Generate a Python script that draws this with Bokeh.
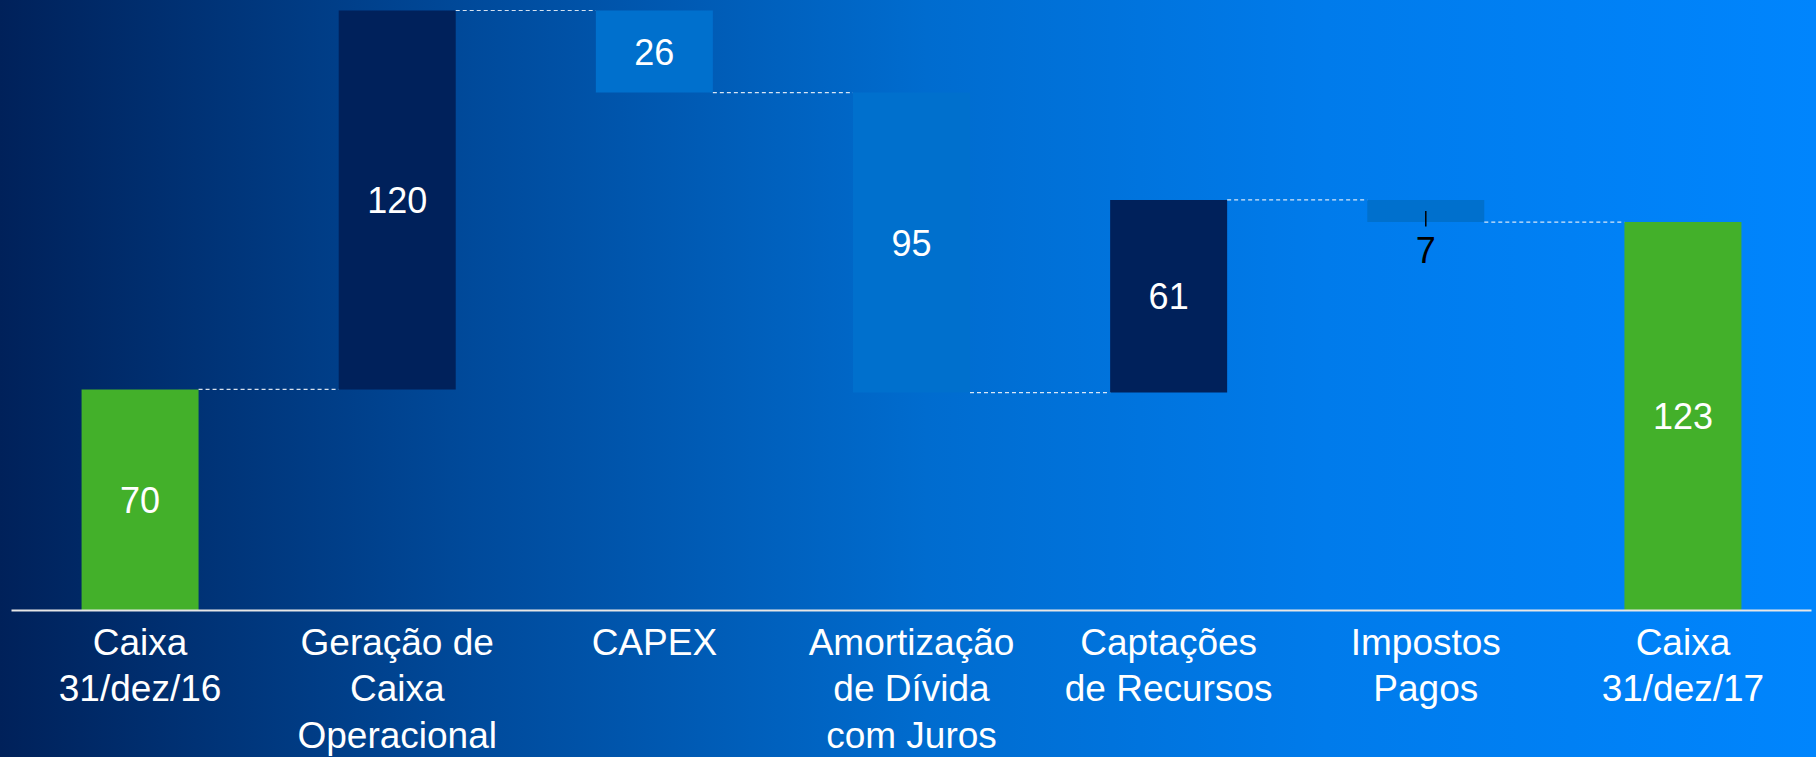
from bokeh.plotting import figure
from bokeh.models import ColumnDataSource, Range1d, FactorRange, GlobalInlineStyleSheet
from bokeh.transform import dodge
from bokeh.core.properties import value
from bokeh.embed import file_html
from bokeh.resources import INLINE

# ---- data ----
categories = ["Caixa\n31/dez/16", "Geração de\nCaixa\nOperacional", "CAPEX",
              "Amortização\nde Dívida\ncom Juros", "Captações\nde Recursos",
              "Impostos\nPagos", "Caixa\n31/dez/17"]
values = [70, 120, -26, -95, 61, -7, 123]
kinds = ["total", "up", "down", "down", "up", "down", "total"]

colors = {"total": "#43B02A", "up": "#00215B", "down": "#0070CD"}
FONT = "Liberation Sans"

# waterfall geometry from values
bottoms, tops, levels, running = [], [], [], 0
for v, k in zip(values, kinds):
    if k == "total":
        b, t = 0, v
        running = v
    else:
        start = running
        running = running + v
        b, t = min(start, running), max(start, running)
    bottoms.append(b)
    tops.append(t)
    levels.append(running)

bar_src = ColumnDataSource(dict(
    cat=categories, bottom=bottoms, top=tops,
    color=[colors[k] for k in kinds],
))

small = [abs(v) < 10 for v in values]
lab_src = ColumnDataSource(dict(
    cat=[c for c, s in zip(categories, small) if not s],
    y=[(b + t) / 2 for b, t, s in zip(bottoms, tops, small) if not s],
    text=[str(abs(v)) for v, s in zip(values, small) if not s],
))
small_src = ColumnDataSource(dict(
    cat=[c for c, s in zip(categories, small) if s],
    y=[b - 8.9 for b, s in zip(bottoms, small) if s],
    y0=[(b + t) / 2 for b, t, s in zip(bottoms, tops, small) if s],
    y1=[b - 1.4 for b, s in zip(bottoms, small) if s],
    text=[str(abs(v)) for v, s in zip(values, small) if s],
))
conn_src = ColumnDataSource(dict(
    c0=categories[:-1], c1=categories[1:], y=levels[:-1],
))

top_val = max(tops)
p = figure(
    x_range=FactorRange(*categories),
    y_range=Range1d(0, top_val * 602 / 600),
    frame_width=1800, frame_height=602,
    min_border_left=11, min_border_right=5, min_border_top=8, min_border_bottom=140,
    output_backend="svg", toolbar_location=None,
    border_fill_color=None, background_fill_color=None, outline_line_color=None,
)
p.stylesheets = [GlobalInlineStyleSheet(css="""
html { min-height: 100%; background: linear-gradient(to right, #00215A 0%, #004A9B 26%, #006CCF 51%, #007BEB 73%, #0085FD 100%) fixed; }
body { margin: 0; padding: 0; background: transparent; overflow: hidden; }
""")]

p.vbar(x="cat", bottom="bottom", top="top", width=0.455, fill_color="color",
       line_color=None, source=bar_src)

p.segment(x0=dodge("c0", 0.2275, range=p.x_range), y0="y",
          x1=dodge("c1", -0.2275, range=p.x_range), y1="y",
          line_color="#F0F4FA", line_alpha=0.9, line_width=1.2, line_dash="4 3",
          source=conn_src)

p.text(x="cat", y="y", text="text", source=lab_src, text_color="white",
       text_font=value(FONT), text_font_size="36px",
       text_align="center", text_baseline="middle")

p.segment(x0="cat", y0="y0", x1="cat", y1="y1", line_color="black",
          line_width=1.5, source=small_src)
p.text(x="cat", y="y", text="text", source=small_src, text_color="black",
       text_font=value(FONT), text_font_size="36px",
       text_align="center", text_baseline="middle")

p.xgrid.visible = False
p.ygrid.visible = False
p.yaxis.visible = False
ax = p.xaxis[0]
ax.axis_line_color = "#E6E6E6"
ax.axis_line_width = 2
ax.major_tick_line_color = None
ax.minor_tick_line_color = None
ax.major_tick_out = 0
ax.major_tick_in = 0
ax.major_label_standoff = 11
ax.major_label_text_color = "white"
ax.major_label_text_font = FONT
ax.major_label_text_font_size = "37px"
ax.major_label_text_line_height = 1.14

open("out.html", "w").write(file_html(p, INLINE))
